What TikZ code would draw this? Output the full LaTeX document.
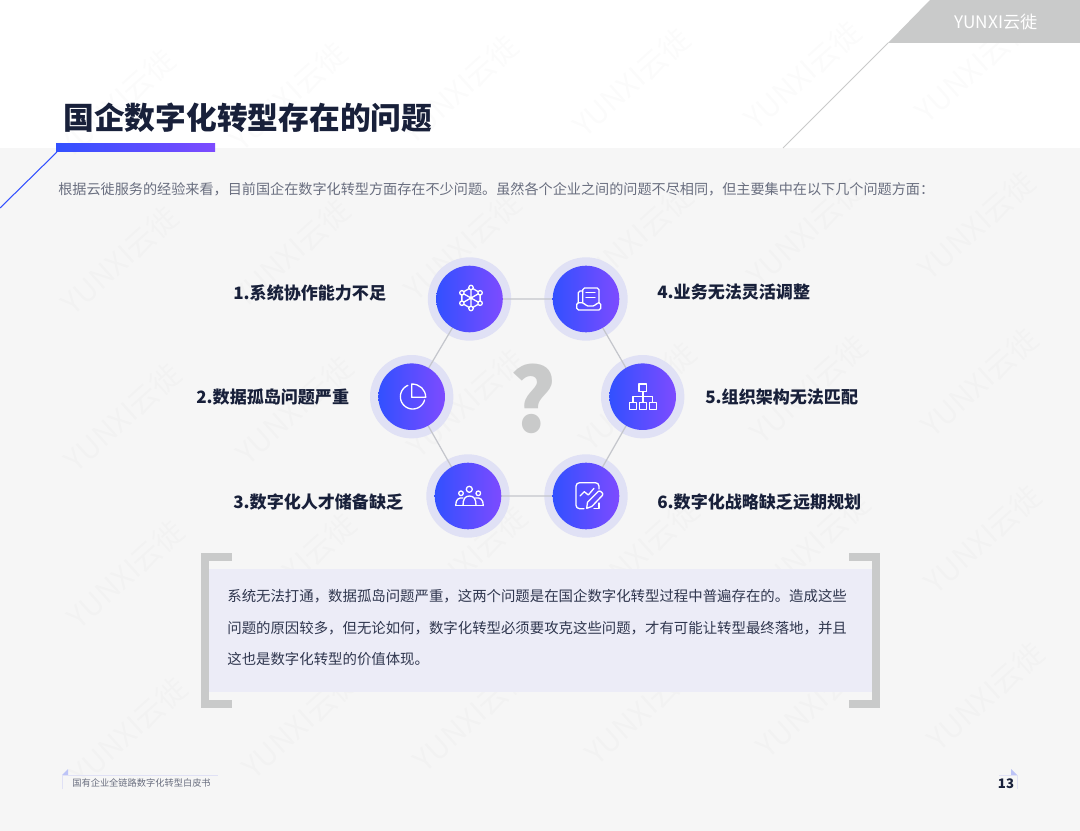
\documentclass[tikz,border=0pt]{standalone}
\usepackage{fontspec}
\setmainfont{Noto Sans CJK SC}
\usepackage{xcolor}
\definecolor{ynblue}{RGB}{50,80,255}
\definecolor{ynviolet}{RGB}{125,75,255}
\definecolor{ynink}{RGB}{24,32,58}
\definecolor{yngrey}{RGB}{201,202,202}
\definecolor{ynpage}{RGB}{246,246,246}
\definecolor{ynring}{RGB}{224,225,245}
\definecolor{ynpanel}{RGB}{236,236,247}
\definecolor{ynedge}{RGB}{196,198,204}
\tikzstyle{ring} = [circle, minimum size=1.668cm, inner sep=0pt, fill=ynring]
\tikzstyle{badge} = [circle, minimum size=1.332cm, inner sep=0pt, left color=ynblue, right color=ynviolet]
\tikzstyle{link} = [draw=ynedge, line width=0.7pt]
\tikzstyle{icon} = [draw=white, line width=0.75pt, line join=round, line cap=round]
\tikzstyle{tag} = [anchor=west, inner sep=0pt, text=ynink, font=\fontsize{9.7}{12}\selectfont\bfseries]
\tikzstyle{para} = [anchor=west, inner sep=0pt, text=ynink!90, font=\fontsize{8.2}{10}\selectfont]
\tikzstyle{bracket} = [draw=yngrey, line width=4pt, line cap=butt]
\tikzstyle{wmark} = [rotate=42, inner sep=0pt, text=black, text opacity=0.016, font=\fontsize{17}{20}\selectfont]

\begin{document}
\begin{tikzpicture}[x=0.02cm, y=-0.02cm]
\useasboundingbox (0,0) rectangle (1080,831);
% Page
\fill[white] (0,0) rectangle (1080,148);
\fill[ynpage] (0,148) rectangle (1080,831);

% Watermark
\foreach \row in {-1,...,3}
  \foreach \col in {0,...,5}
    \node[wmark] (wm-\row-\col) at ({120+\col*171.4+\row*3},{260-\col*7+\row*157}) {YUNXI云徙};

% Header
\fill[yngrey] (930,0) -- (1080,0) -- (1080,43) -- (888,43) -- cycle;
\coordinate (hook) at (888,43);
\coordinate (hookend) at (783,148);
\draw[yngrey, line width=0.6pt] (hook) -- (hookend);
\node[inner sep=0pt, text=white, font=\fontsize{9.8}{12}\selectfont] (logo) at (996,22) {YUNXI云徙};

% Title
\node[anchor=west, inner sep=0pt, text=ynink, font=\fontsize{17.5}{20}\selectfont\bfseries] (title) at (63,118) {国企数字化转型存在的问题};
\shade[left color=ynblue, right color=ynviolet] (56,144) rectangle (215,152);
\coordinate (slash) at (57,152);
\coordinate (slashend) at (0,208);
\draw[ynblue, line width=0.6pt] (slash) -- (slashend);
\node[anchor=west, inner sep=0pt, text=ynink!65, font=\fontsize{8.04}{10}\selectfont] (lead) at (58,189) {根据云徙服务的经验来看，目前国企在数字化转型方面存在不少问题。虽然各个企业之间的问题不尽相同，但主要集中在以下几个问题方面：};

% Rings
\node[ring] (r1) at (469.5,299) {};
\node[ring] (r2) at (411.7,396.7) {};
\node[ring] (r3) at (468,496) {};
\node[ring] (r4) at (586,299) {};
\node[ring] (r5) at (642.7,396.7) {};
\node[ring] (r6) at (586,496) {};

% Connections
\draw[link] (r1.center) -- (r4.center) -- (r5.center) -- (r6.center) -- (r3.center) -- (r2.center) -- (r1.center);

% Badges
\node[badge] (net) at (r1) {};
\node[badge] (pie) at (r2) {};
\node[badge] (team) at (r3) {};
\node[badge] (tray) at (r4) {};
\node[badge] (org) at (r5) {};
\node[badge] (plan) at (r6) {};

% Question mark
\node[inner sep=0pt, text=yngrey, font=\fontsize{50}{55}\selectfont\bfseries] (quest) at (533,399) {?};

% Icon: network
\begin{scope}[shift={(471,298)}]
\draw[icon] (0,-10.5) -- (9.1,-5.2) -- (9.1,5.2) -- (0,10.5) -- (-9.1,5.2) -- (-9.1,-5.2) -- cycle;
\draw[icon] (0,-10.5) -- (0,10.5) (-9.1,-5.2) -- (9.1,5.2) (-9.1,5.2) -- (9.1,-5.2);
\foreach \p in {(0,-10.5),(9.1,-5.2),(9.1,5.2),(0,10.5),(-9.1,5.2),(-9.1,-5.2)}
  \filldraw[icon, fill=ynblue!50!ynviolet] \p circle (2.2);
\end{scope}

% Icon: pie
\draw[icon] plot[domain=113:345, samples=40] ({412.7+12.3*cos(\x)},{396.7-12.3*sin(\x)});
\draw[icon] (411.7,384) -- (411.7,397.3) -- (425.7,397.3) .. controls (425.7,389.5) and (419.5,384) .. (411.7,384) -- cycle;

% Icon: team
\draw[icon] (469.3,489.3) circle (3);
\draw[icon] (461,493.3) circle (2.3);
\draw[icon] (478.3,493.3) circle (2.3);
\draw[icon] (455.7,505.5) .. controls (455.7,499) and (459,497.5) .. (463,498);
\draw[icon] (475.5,498) .. controls (480,497.5) and (483.3,499) .. (483.3,505.5);
\draw[icon] (455.7,505.5) -- (483.3,505.5);
\draw[icon] (463,505.5) .. controls (463,499) and (465,496) .. (469.5,496) .. controls (474,496) and (476,499) .. (476,505.5);

% Icon: tray
\draw[icon, rounded corners=1] (576.7,302.7) -- (584,302.7) -- (586,306) -- (595,306) -- (597,302.7) -- (600.7,302.7) -- (600.7,310) -- (576.7,310) -- cycle;
\draw[icon, rounded corners=1] (582.7,302.7) -- (582.7,288) -- (599,288) -- (599,302.7);
\draw[icon, rounded corners=1] (582.7,291) -- (578.3,291) -- (578.3,302.7);
\draw[icon] (586,292.7) -- (595,292.7) (586,297.3) -- (595,297.3);

% Icon: org chart
\draw[icon] (639,384) rectangle (646.7,391.7);
\draw[icon] (629.3,402.3) rectangle (636.7,409.3);
\draw[icon] (639.3,402.3) rectangle (646.7,409.3);
\draw[icon] (649.3,402.3) rectangle (656.3,409.3);
\draw[icon] (643,391.7) -- (643,402.3) (633,402.3) -- (633,396.7) -- (652.7,396.7) -- (652.7,402.3);

% Icon: plan
\draw[icon, rounded corners=2] (599,489) -- (599,482.7) -- (576,482.7) -- (576,508.7) -- (584,508.7);
\draw[icon] (594,508.7) -- (599,508.7) -- (599,503);
\draw[icon] (580,496) -- (584.3,491.7) -- (588.3,495) -- (594,488.3);
\draw[icon] (586.7,508.3) -- (587.5,502.3) -- (598.5,491.3) .. controls (600,490) and (604,493.5) .. (602.5,495.3) -- (591.8,506.5) -- cycle;

% Labels
\node[tag] (l1) at (233,293) {1.系统协作能力不足};
\node[tag] (l2) at (196,397) {2.数据孤岛问题严重};
\node[tag] (l3) at (233,502) {3.数字化人才储备缺乏};
\node[tag] (l4) at (657,292) {4.业务无法灵活调整};
\node[tag] (l5) at (705,397) {5.组织架构无法匹配};
\node[tag] (l6) at (657,502) {6.数字化战略缺乏远期规划};

% Panel
\fill[ynpanel] (209,569) rectangle (872,692);
\draw[bracket] (232,557) -- (205,557) -- (205,704) -- (232,704);
\draw[bracket] (849,557) -- (876,557) -- (876,704) -- (849,704);
\node[para] (t1) at (227,596) {系统无法打通，数据孤岛问题严重，这两个问题是在国企数字化转型过程中普遍存在的。造成这些};
\node[para] (t2) at (227,628) {问题的原因较多，但无论如何，数字化转型必须要攻克这些问题，才有可能让转型最终落地，并且};
\node[para] (t3) at (227,659) {这也是数字化转型的价值体现。};

% Footer
\fill[ynring!80!ynblue] (62,775) -- (68,769) -- (68,775) -- cycle;
\coordinate (fa) at (62,789);
\coordinate (fb) at (62,775);
\coordinate (fc) at (218,775);
\draw[ynring, line width=0.4pt] (fa) -- (fb) -- (fc);
\node[anchor=west, inner sep=0pt, text=ynink!65, font=\fontsize{5.25}{7}\selectfont] (foot) at (72,783) {国有企业全链路数字化转型白皮书};
\fill[ynring!80!ynblue] (1011,769) -- (1017,775) -- (1011,775) -- cycle;
\coordinate (pa) at (999,775);
\coordinate (pb) at (1017,775);
\coordinate (pc) at (1017,789);
\draw[ynring, line width=0.4pt] (pa) -- (pb) -- (pc);
\node[inner sep=0pt, text=ynink, font=\fontsize{7.5}{9}\selectfont\bfseries] (page) at (1006,784) {13};
\end{tikzpicture}
\end{document}
